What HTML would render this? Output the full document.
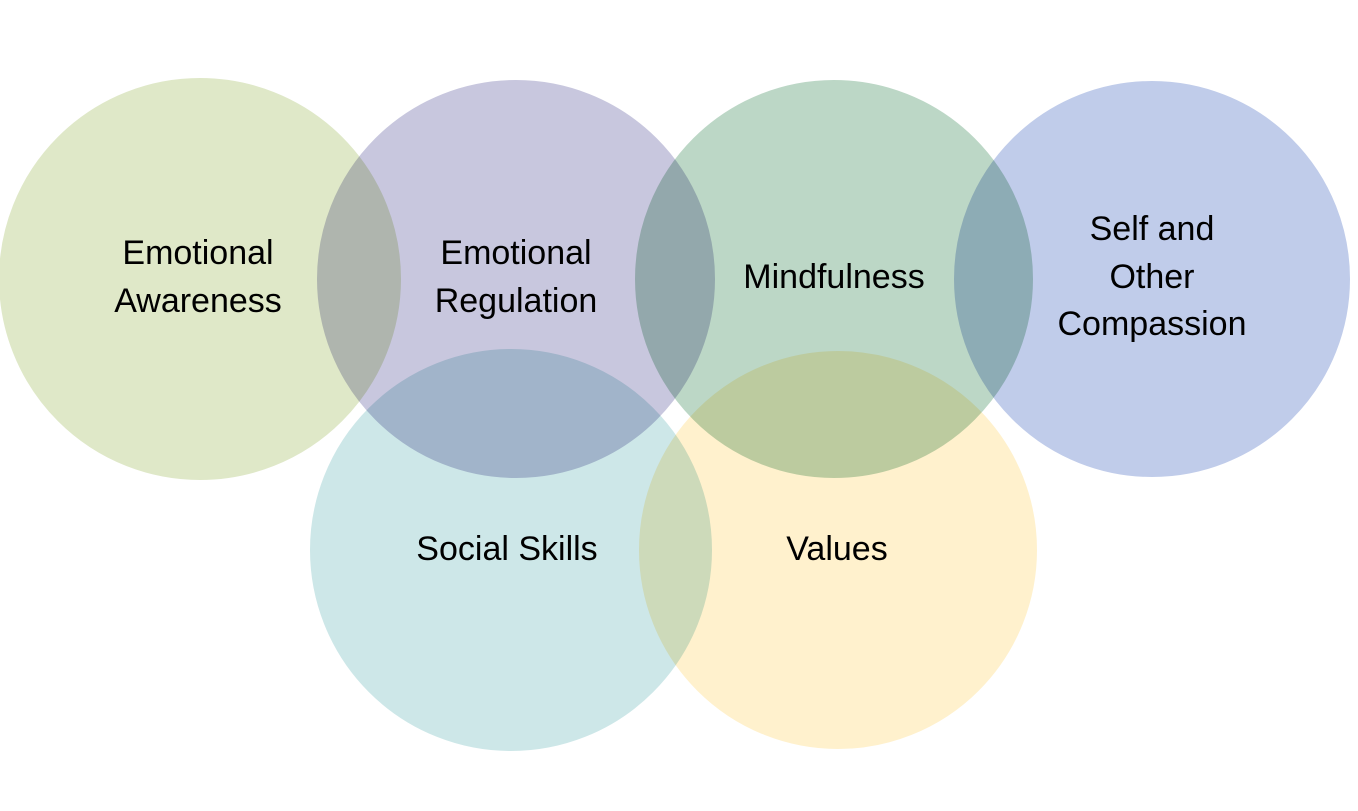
<!DOCTYPE html>
<html><head><meta charset="utf-8"><style>
html,body{margin:0;padding:0;background:#fff;}
svg{display:block}
text{font-family:"Liberation Sans",sans-serif;font-size:34px;fill:#000;text-anchor:middle;}
</style></head><body>
<svg width="1358" height="811" viewBox="0 0 1358 811" xmlns="http://www.w3.org/2000/svg">
<g stroke="#fff" stroke-width="2" style="isolation:isolate">
<circle cx="200" cy="279" r="202" fill="#dfe8c8" style="mix-blend-mode:multiply"/>
<circle cx="516" cy="279" r="200" fill="#c8c7de" style="mix-blend-mode:multiply"/>
<circle cx="834" cy="279" r="200" fill="#bcd7c6" style="mix-blend-mode:multiply"/>
<circle cx="1152" cy="279" r="199" fill="#c0ccea" style="mix-blend-mode:multiply"/>
<circle cx="511" cy="550" r="202" fill="#cde7e8" style="mix-blend-mode:multiply"/>
<circle cx="838" cy="550" r="200" fill="#fff1cd" style="mix-blend-mode:multiply"/>
</g>
<text x="198" y="264">Emotional</text>
<text x="198" y="312">Awareness</text>
<text x="516" y="264">Emotional</text>
<text x="516" y="312">Regulation</text>
<text x="834" y="288">Mindfulness</text>
<text x="1152" y="240">Self and</text>
<text x="1152" y="288">Other</text>
<text x="1152" y="335">Compassion</text>
<text x="507" y="560">Social Skills</text>
<text x="837" y="560">Values</text>
</svg>
</body></html>
